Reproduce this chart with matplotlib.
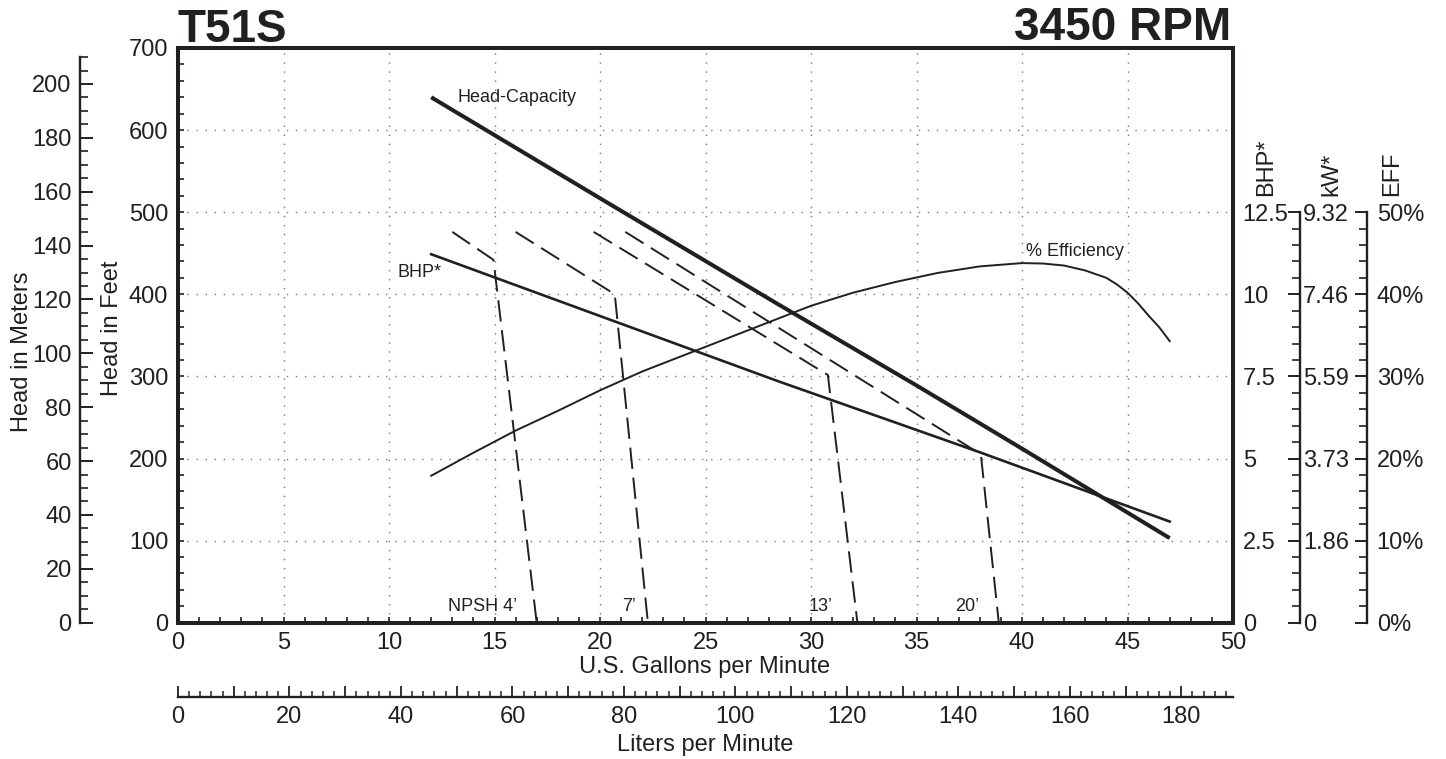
import numpy as np
import matplotlib
matplotlib.use("Agg")
import matplotlib.pyplot as plt
from matplotlib.ticker import MultipleLocator, FixedLocator, FixedFormatter, FuncFormatter

plt.rcParams['font.family'] = ['Liberation Sans', 'DejaVu Sans']
INK = '#231f20'
plt.rcParams['text.color'] = INK
plt.rcParams['axes.edgecolor'] = INK
plt.rcParams['xtick.color'] = INK
plt.rcParams['ytick.color'] = INK

# ---------- data ----------
hc_gpm = [12, 20, 28.5, 35, 40, 47]
hc_ft = [640, 517, 387, 289, 212, 103]

bhp_gpm = [12, 28.5, 38, 47]
bhp_val = [11.22, 7.34, 5.19, 3.08]

eff_gpm = [12, 14, 16, 18, 20, 22, 24, 26, 28, 30, 32, 34, 36, 38, 40, 41, 42, 43, 44,
           44.5, 45, 45.5, 46, 46.5, 47]
eff_pct = [17.9, 20.7, 23.4, 25.8, 28.3, 30.6, 32.6, 34.6, 36.6, 38.6, 40.2, 41.5, 42.6, 43.4,
           43.8, 43.75, 43.5, 42.9, 42.0, 41.2, 40.2, 38.9, 37.4, 36.0, 34.3]

npsh_labels = ["NPSH 4\u2019", "7\u2019", "13\u2019", "20\u2019"]
npsh_gpm = [[13.0, 14.95, 17.0], [16.0, 20.7, 22.27], [19.7, 30.8, 32.2], [21.2, 38.05, 38.9]]
npsh_ft = [[476, 442, 0], [476, 400, 0], [476, 301.7, 0], [476, 205, 0]]

kw_labels = ['0', '1.86', '3.73', '5.59', '7.46', '9.32']
bhp_ticks = [0, 2.5, 5, 7.5, 10, 12.5]
bhp_ticklabels = ['0', '2.5', '5', '7.5', '10', '12.5']
eff_ticks = [0, 10, 20, 30, 40, 50]

FT_PER_M = 3.2808
LPM_PER_GPM = 3.78541

# ---------- figure ----------
W, H = 1446, 759
fig = plt.figure(figsize=(W / 100, H / 100), dpi=100)
L, R, T, B = 178, 1233, 48, 622.7
ax = fig.add_axes([L / W, 1 - B / H, (R - L) / W, (B - T) / H])
axw = R - L

def fx(px):
    return px / W

def fy(py):
    return 1 - py / H

ax.set_xlim(0, 50)
ax.set_ylim(0, 700)
for s in ax.spines.values():
    s.set_linewidth(2.9)
ax.xaxis.set_major_locator(MultipleLocator(5))
ax.xaxis.set_minor_locator(MultipleLocator(1))
ax.yaxis.set_major_locator(MultipleLocator(100))
ax.yaxis.set_minor_locator(MultipleLocator(20))
ax.tick_params(which='both', direction='in', top=True, right=True, length=4.5, width=1.2)
ax.tick_params(axis='both', labelsize=17)
ax.tick_params(axis='x', pad=7)
ax.tick_params(axis='y', pad=7)
ax.grid(True, which='major', color='#777777', linestyle=(0, (1, 5.5)), linewidth=1.0)
ax.set_axisbelow(True)

# head-capacity and NPSH (feet)
ax.plot(hc_gpm, hc_ft, color=INK, linewidth=2.9, solid_capstyle='butt', zorder=3)
for g, f in zip(npsh_gpm, npsh_ft):
    ax.plot(g, f, color=INK, linewidth=1.4, linestyle=(0, (11, 4.5)), zorder=3)

ax.text(13.25, 640, 'Head-Capacity', fontsize=13, va='center', ha='left')
ax.text(10.4, 427, 'BHP*', fontsize=13, va='center', ha='left')
ax.text(40.2, 452, '% Efficiency', fontsize=13, va='center', ha='left')
for lab, xpos in zip(npsh_labels, [12.8, 21.05, 29.9, 36.85]):
    ax.text(xpos, 20, lab, fontsize=13, va='center', ha='left')

# BHP axis (main right spine)
ax_b = ax.twinx()
ax_b.set_ylim(0, 17.5)
for s in ax_b.spines.values():
    s.set_visible(False)
ax_b.yaxis.set_major_locator(FixedLocator(bhp_ticks))
ax_b.yaxis.set_major_formatter(FixedFormatter(bhp_ticklabels))
ax_b.tick_params(axis='y', length=0, pad=7, labelsize=17)
ax_b.plot(bhp_gpm, bhp_val, color=INK, linewidth=1.9, zorder=3)

# kW axis
ax_k = ax.twinx()
ax_k.set_ylim(0, 17.5)
for s in ax_k.spines.values():
    s.set_visible(False)
ax_k.spines['right'].set_visible(True)
ax_k.spines['right'].set_position(('axes', (1300 - L) / axw))
ax_k.spines['right'].set_bounds(0, 12.5)
ax_k.spines['right'].set_linewidth(1.7)
ax_k.yaxis.set_major_locator(FixedLocator(bhp_ticks))
ax_k.yaxis.set_major_formatter(FixedFormatter(kw_labels))
ax_k.yaxis.set_minor_locator(FixedLocator(np.arange(0, 12.51, 0.5)))
ax_k.tick_params(axis='y', which='major', direction='in', length=8.4, width=1.4, pad=2, labelsize=17)
ax_k.tick_params(axis='y', which='minor', direction='in', length=6, width=1.2)

# efficiency axis
ax_e = ax.twinx()
ax_e.set_ylim(0, 70)
for s in ax_e.spines.values():
    s.set_visible(False)
ax_e.spines['right'].set_visible(True)
ax_e.spines['right'].set_position(('axes', (1367 - L) / axw))
ax_e.spines['right'].set_bounds(0, 50)
ax_e.spines['right'].set_linewidth(1.7)
ax_e.yaxis.set_major_locator(FixedLocator(eff_ticks))
ax_e.yaxis.set_major_formatter(FuncFormatter(lambda v, p: f"{v:.0f}%"))
ax_e.yaxis.set_minor_locator(FixedLocator(np.arange(0, 50.1, 2)))
ax_e.tick_params(axis='y', which='major', direction='in', length=8.4, width=1.4, pad=7, labelsize=17)
ax_e.tick_params(axis='y', which='minor', direction='in', length=6, width=1.2)
ax_e.plot(eff_gpm, eff_pct, color=INK, linewidth=1.4, zorder=3)

# meters axis (left)
ax_m = ax.twinx()
ax_m.set_ylim(0, 700 / FT_PER_M)
for s in ax_m.spines.values():
    s.set_visible(False)
ax_m.yaxis.set_ticks_position('left')
ax_m.yaxis.set_label_position('left')
ax_m.spines['left'].set_visible(True)
ax_m.spines['left'].set_position(('axes', (80 - L) / axw))
ax_m.spines['left'].set_bounds(0, 210)
ax_m.spines['left'].set_linewidth(1.7)
ax_m.yaxis.set_major_locator(FixedLocator(np.arange(0, 201, 20)))
ax_m.yaxis.set_minor_locator(FixedLocator(np.arange(0, 211, 5)))
ax_m.tick_params(axis='y', which='major', direction='in', length=9.5, width=1.4, pad=6, labelsize=17)
ax_m.tick_params(axis='y', which='minor', direction='in', length=6, width=1.2)

# liters per minute axis (bottom)
ax_l = ax.twiny()
ax_l.set_xlim(0, 50 * LPM_PER_GPM)
for s in ax_l.spines.values():
    s.set_visible(False)
ax_l.xaxis.set_ticks_position('bottom')
ax_l.xaxis.set_label_position('bottom')
ax_l.spines['bottom'].set_visible(True)
ax_l.spines['bottom'].set_position(('axes', -(697.3 - B) / (B - T)))
ax_l.spines['bottom'].set_linewidth(1.7)
ax_l.xaxis.set_major_locator(MultipleLocator(10))
ax_l.xaxis.set_major_formatter(FuncFormatter(lambda v, p: f"{v:.0f}" if round(v) % 20 == 0 else ""))
ax_l.xaxis.set_minor_locator(MultipleLocator(2))
ax_l.tick_params(axis='x', which='major', direction='in', length=8, width=1.3, pad=6, labelsize=17)
ax_l.tick_params(axis='x', which='minor', direction='in', length=4, width=1.1)

# axis titles
fig.text(fx(705), fy(667), 'U.S. Gallons per Minute', fontsize=17, ha='center', va='center')
fig.text(fx(705), fy(745), 'Liters per Minute', fontsize=17, ha='center', va='center')
fig.text(fx(22), fy(352), 'Head in Meters', fontsize=17, ha='center', va='center', rotation=90)
fig.text(fx(112), fy(328), 'Head in Feet', fontsize=17, ha='center', va='center', rotation=90)
fig.text(fx(1266), fy(196), 'BHP*', fontsize=17, ha='center', va='bottom', rotation=90)
fig.text(fx(1331), fy(196), 'kW*', fontsize=17, ha='center', va='bottom', rotation=90)
fig.text(fx(1392), fy(196), 'EFF', fontsize=17, ha='center', va='bottom', rotation=90)

fig.text(fx(178), fy(42), 'T51S', fontsize=33, fontweight='bold', ha='left', va='baseline')
fig.text(fx(1231), fy(40), '3450 RPM', fontsize=33, fontweight='bold', ha='right', va='baseline')

fig.savefig('out.png', dpi=100)
